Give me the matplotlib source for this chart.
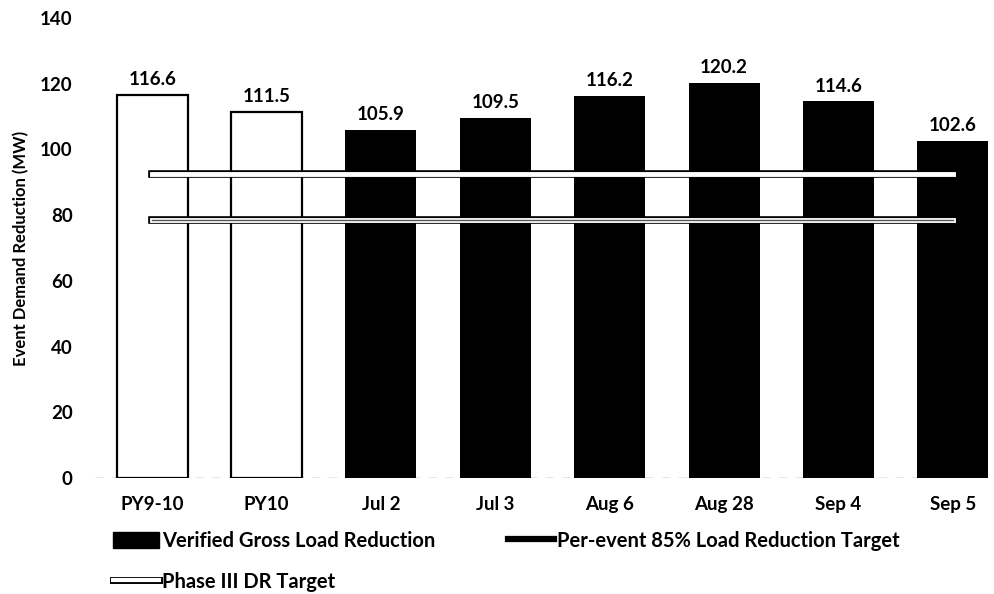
import matplotlib
matplotlib.use("Agg")
import matplotlib.pyplot as plt
import matplotlib.patheffects as pe
from matplotlib.patches import Patch
from matplotlib.lines import Line2D
import numpy as np

plt.rcParams['font.family'] = ['Lato', 'DejaVu Sans']

categories = ["PY9-10", "PY10", "Jul 2", "Jul 3", "Aug 6", "Aug 28", "Sep 4", "Sep 5"]
verified_gross = [116.6, 111.5, 105.9, 109.5, 116.2, 120.2, 114.6, 102.6]
per_event_target = [78.5] * len(categories)
phase3_target = [92.5] * len(categories)
program_year = [True, True, False, False, False, False, False, False]
y_ticks = [0, 20, 40, 60, 80, 100, 120, 140]

fig = plt.figure(figsize=(9.95, 5.94), dpi=100)
ax = fig.add_axes([95 / 995, (594 - 478) / 594, (1010 - 95) / 995, 460 / 594])

x = np.arange(len(categories))
face = ["white" if py else "black" for py in program_year]
edge = ["black" if py else "none" for py in program_year]
bars = ax.bar(x, verified_gross, width=0.62, color=face, edgecolor=edge,
              linewidth=1.6, zorder=2)

for xi, v in zip(x, verified_gross):
    ax.annotate(f"{v:.1f}", (xi, v), xytext=(0, 5), textcoords="offset points",
                ha="center", va="bottom", fontsize=13.5, fontweight="bold")

# target lines: white band with a dark outline
ax.plot(x, phase3_target, color="white", lw=3.5, zorder=3,
        path_effects=[pe.Stroke(linewidth=5.5, foreground="black"), pe.Normal()])
ax.plot(x, per_event_target, color="white", lw=3.5, zorder=3,
        path_effects=[pe.Stroke(linewidth=5.5, foreground="black"), pe.Normal()])
ax.plot(x, per_event_target, color="#555555", lw=1.0, zorder=4)

ax.axhline(0, color="#888888", lw=1.0, ls=(0, (6, 6)), zorder=1)

ax.set_xlim(-0.5, len(categories) - 0.5)
ax.set_ylim(0, 140)
ax.set_yticks(y_ticks)
ax.set_xticks(x)
ax.set_xticklabels(categories)
ax.tick_params(axis="both", length=0, labelsize=13.5)
ax.tick_params(axis="y", pad=16)
ax.tick_params(axis="x", pad=13)
for lbl in ax.get_xticklabels() + ax.get_yticklabels():
    lbl.set_fontweight("bold")
for s in ax.spines.values():
    s.set_visible(False)

ax.set_ylabel("Event Demand Reduction (MW)", fontsize=12, fontweight="bold",
              labelpad=8)

handles = [
    Patch(facecolor="black", edgecolor="black"),
    Line2D([], [], color="white", lw=3,
           path_effects=[pe.Stroke(linewidth=5, foreground="black"), pe.Normal()]),
    Line2D([], [], color="black", lw=4.5),
]
labels = ["Verified Gross Load Reduction", "Phase III DR Target",
          "Per-event 85% Load Reduction Target"]
fig.legend(handles, labels, ncol=2, loc="upper left",
           bbox_to_anchor=(113 / 995, 1 - 531 / 594), frameon=False,
           handlelength=2.3, handleheight=0.9, handletextpad=0.15,
           columnspacing=3.6, labelspacing=1.05, borderpad=0, borderaxespad=0,
           prop={"weight": "bold", "size": 14.5})

fig.savefig("out.png", dpi=100)
